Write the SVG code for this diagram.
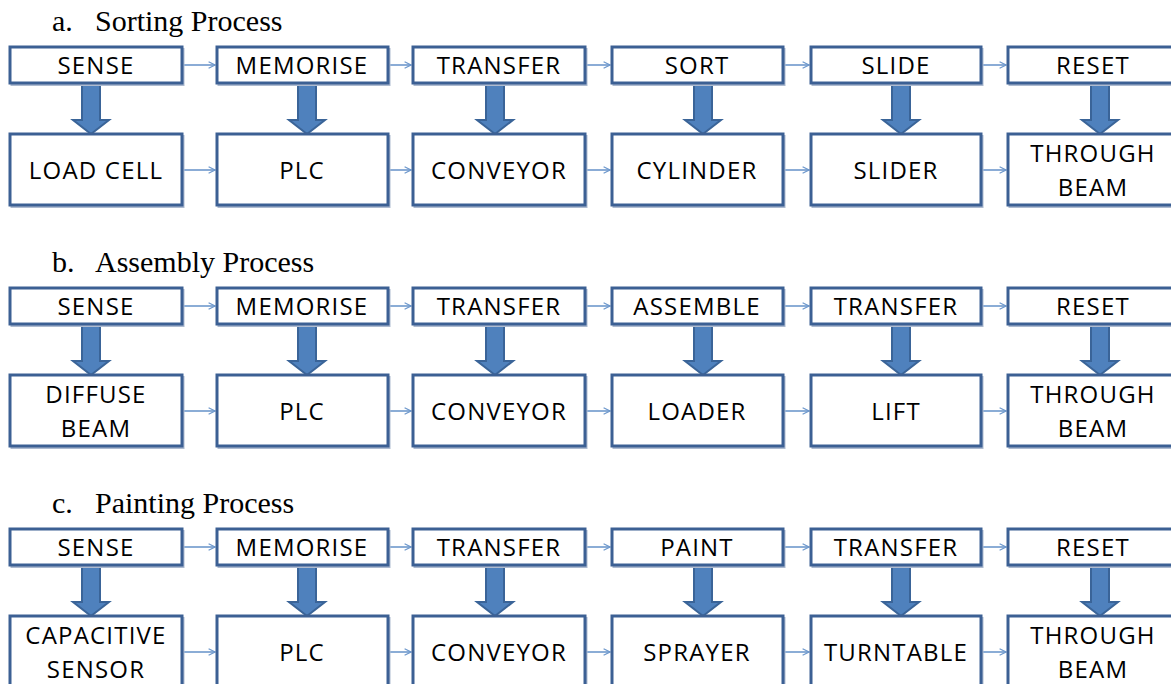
<svg xmlns="http://www.w3.org/2000/svg" width="1171" height="684" viewBox="0 0 1171 684">
<defs>
<style>
.title{font-family:"Liberation Serif","Times New Roman",serif;font-size:30px;fill:#000}
.box{fill:#fff;stroke:#3c6094;stroke-width:3}
.shadow{fill:none;stroke:#aebbd0;stroke-width:2}
.lbl{font-family:"Open Sans","Liberation Sans",sans-serif;font-size:24px;fill:#000;text-anchor:middle;letter-spacing:1.2px}
.conn{stroke:#6e98cc;stroke-width:1.6;fill:none;marker-end:url(#chev)}
.big{fill:#4f81bd;stroke:#3a6498;stroke-width:2;stroke-linejoin:miter}
</style>
<marker id="chev" viewBox="0 0 10 10" refX="9" refY="5" markerWidth="8" markerHeight="8" markerUnits="userSpaceOnUse" orient="auto">
<path d="M1,1 L9,5 L1,9" fill="none" stroke="#6e98cc" stroke-width="1.6"/>
</marker>
</defs>
<rect width="1171" height="684" fill="#fff"/>

<text class="title" x="52" y="31">a.</text><text class="title" x="95" y="31">Sorting Process</text>
<text class="title" x="52" y="272">b.</text><text class="title" x="95" y="272">Assembly Process</text>
<text class="title" x="52" y="513">c.</text><text class="title" x="95" y="513">Painting Process</text>

<g id="connectors">
<line class="conn" x1="183" y1="65" x2="215" y2="65"/>
<line class="conn" x1="389" y1="65" x2="411" y2="65"/>
<line class="conn" x1="586" y1="65" x2="610" y2="65"/>
<line class="conn" x1="784" y1="65" x2="809" y2="65"/>
<line class="conn" x1="982" y1="65" x2="1006" y2="65"/>
<line class="conn" x1="183" y1="170" x2="215" y2="170"/>
<line class="conn" x1="389" y1="170" x2="411" y2="170"/>
<line class="conn" x1="586" y1="170" x2="610" y2="170"/>
<line class="conn" x1="784" y1="170" x2="809" y2="170"/>
<line class="conn" x1="982" y1="170" x2="1006" y2="170"/>
<line class="conn" x1="183" y1="306" x2="215" y2="306"/>
<line class="conn" x1="389" y1="306" x2="411" y2="306"/>
<line class="conn" x1="586" y1="306" x2="610" y2="306"/>
<line class="conn" x1="784" y1="306" x2="809" y2="306"/>
<line class="conn" x1="982" y1="306" x2="1006" y2="306"/>
<line class="conn" x1="183" y1="411" x2="215" y2="411"/>
<line class="conn" x1="389" y1="411" x2="411" y2="411"/>
<line class="conn" x1="586" y1="411" x2="610" y2="411"/>
<line class="conn" x1="784" y1="411" x2="809" y2="411"/>
<line class="conn" x1="982" y1="411" x2="1006" y2="411"/>
<line class="conn" x1="183" y1="547" x2="215" y2="547"/>
<line class="conn" x1="389" y1="547" x2="411" y2="547"/>
<line class="conn" x1="586" y1="547" x2="610" y2="547"/>
<line class="conn" x1="784" y1="547" x2="809" y2="547"/>
<line class="conn" x1="982" y1="547" x2="1006" y2="547"/>
<line class="conn" x1="183" y1="652" x2="215" y2="652"/>
<line class="conn" x1="389" y1="652" x2="411" y2="652"/>
<line class="conn" x1="586" y1="652" x2="610" y2="652"/>
<line class="conn" x1="784" y1="652" x2="809" y2="652"/>
<line class="conn" x1="982" y1="652" x2="1006" y2="652"/>
<path class="big" d="M82,84 H100 V120 H109 L91,134 L73,120 H82 Z"/>
<path class="big" d="M298,84 H316 V120 H325 L307,134 L289,120 H298 Z"/>
<path class="big" d="M486,84 H504 V120 H513 L495,134 L477,120 H486 Z"/>
<path class="big" d="M694,84 H712 V120 H721 L703,134 L685,120 H694 Z"/>
<path class="big" d="M892,84 H910 V120 H919 L901,134 L883,120 H892 Z"/>
<path class="big" d="M1091,84 H1109 V120 H1118 L1100,134 L1082,120 H1091 Z"/>
<path class="big" d="M82,325 H100 V361 H109 L91,375 L73,361 H82 Z"/>
<path class="big" d="M298,325 H316 V361 H325 L307,375 L289,361 H298 Z"/>
<path class="big" d="M486,325 H504 V361 H513 L495,375 L477,361 H486 Z"/>
<path class="big" d="M694,325 H712 V361 H721 L703,375 L685,361 H694 Z"/>
<path class="big" d="M892,325 H910 V361 H919 L901,375 L883,361 H892 Z"/>
<path class="big" d="M1091,325 H1109 V361 H1118 L1100,375 L1082,361 H1091 Z"/>
<path class="big" d="M82,566 H100 V602 H109 L91,616 L73,602 H82 Z"/>
<path class="big" d="M298,566 H316 V602 H325 L307,616 L289,602 H298 Z"/>
<path class="big" d="M486,566 H504 V602 H513 L495,616 L477,602 H486 Z"/>
<path class="big" d="M694,566 H712 V602 H721 L703,616 L685,602 H694 Z"/>
<path class="big" d="M892,566 H910 V602 H919 L901,616 L883,602 H892 Z"/>
<path class="big" d="M1091,566 H1109 V602 H1118 L1100,616 L1082,602 H1091 Z"/>
</g>

<g id="a-sense"><rect class="shadow" x="11.5" y="49" width="172" height="36"/><rect class="box" x="10" y="47" width="172" height="36"/><text class="lbl" x="96" y="74">SENSE</text></g>
<g id="a-memorise"><rect class="shadow" x="218.5" y="49" width="171" height="36"/><rect class="box" x="217" y="47" width="171" height="36"/><text class="lbl" x="302" y="74">MEMORISE</text></g>
<g id="a-transfer"><rect class="shadow" x="414.5" y="49" width="172" height="36"/><rect class="box" x="413" y="47" width="172" height="36"/><text class="lbl" x="499" y="74">TRANSFER</text></g>
<g id="a-sort"><rect class="shadow" x="613.5" y="49" width="171" height="36"/><rect class="box" x="612" y="47" width="171" height="36"/><text class="lbl" x="697" y="74">SORT</text></g>
<g id="a-slide"><rect class="shadow" x="812.5" y="49" width="170" height="36"/><rect class="box" x="811" y="47" width="170" height="36"/><text class="lbl" x="896" y="74">SLIDE</text></g>
<g id="a-reset"><rect class="shadow" x="1009.5" y="49" width="172" height="36"/><rect class="box" x="1008" y="47" width="172" height="36"/><text class="lbl" x="1093" y="74">RESET</text></g>

<g id="a-loadcell"><rect class="shadow" x="11.5" y="136" width="172" height="71"/><rect class="box" x="10" y="134" width="172" height="71"/><text class="lbl" x="96" y="179">LOAD CELL</text></g>
<g id="a-plc"><rect class="shadow" x="218.5" y="136" width="171" height="71"/><rect class="box" x="217" y="134" width="171" height="71"/><text class="lbl" x="302" y="179">PLC</text></g>
<g id="a-conveyor"><rect class="shadow" x="414.5" y="136" width="172" height="71"/><rect class="box" x="413" y="134" width="172" height="71"/><text class="lbl" x="499" y="179">CONVEYOR</text></g>
<g id="a-cylinder"><rect class="shadow" x="613.5" y="136" width="171" height="71"/><rect class="box" x="612" y="134" width="171" height="71"/><text class="lbl" x="697" y="179">CYLINDER</text></g>
<g id="a-slider"><rect class="shadow" x="812.5" y="136" width="170" height="71"/><rect class="box" x="811" y="134" width="170" height="71"/><text class="lbl" x="896" y="179">SLIDER</text></g>
<g id="a-throughbeam"><rect class="shadow" x="1009.5" y="136" width="172" height="71"/><rect class="box" x="1008" y="134" width="172" height="71"/><text class="lbl" x="1093" y="162">THROUGH</text><text class="lbl" x="1093" y="196">BEAM</text></g>

<g id="b-sense"><rect class="shadow" x="11.5" y="290" width="172" height="36"/><rect class="box" x="10" y="288" width="172" height="36"/><text class="lbl" x="96" y="315">SENSE</text></g>
<g id="b-memorise"><rect class="shadow" x="218.5" y="290" width="171" height="36"/><rect class="box" x="217" y="288" width="171" height="36"/><text class="lbl" x="302" y="315">MEMORISE</text></g>
<g id="b-transfer"><rect class="shadow" x="414.5" y="290" width="172" height="36"/><rect class="box" x="413" y="288" width="172" height="36"/><text class="lbl" x="499" y="315">TRANSFER</text></g>
<g id="b-assemble"><rect class="shadow" x="613.5" y="290" width="171" height="36"/><rect class="box" x="612" y="288" width="171" height="36"/><text class="lbl" x="697" y="315">ASSEMBLE</text></g>
<g id="b-transfer2"><rect class="shadow" x="812.5" y="290" width="170" height="36"/><rect class="box" x="811" y="288" width="170" height="36"/><text class="lbl" x="896" y="315">TRANSFER</text></g>
<g id="b-reset"><rect class="shadow" x="1009.5" y="290" width="172" height="36"/><rect class="box" x="1008" y="288" width="172" height="36"/><text class="lbl" x="1093" y="315">RESET</text></g>

<g id="b-diffusebeam"><rect class="shadow" x="11.5" y="377" width="172" height="71"/><rect class="box" x="10" y="375" width="172" height="71"/><text class="lbl" x="96" y="403">DIFFUSE</text><text class="lbl" x="96" y="437">BEAM</text></g>
<g id="b-plc"><rect class="shadow" x="218.5" y="377" width="171" height="71"/><rect class="box" x="217" y="375" width="171" height="71"/><text class="lbl" x="302" y="420">PLC</text></g>
<g id="b-conveyor"><rect class="shadow" x="414.5" y="377" width="172" height="71"/><rect class="box" x="413" y="375" width="172" height="71"/><text class="lbl" x="499" y="420">CONVEYOR</text></g>
<g id="b-loader"><rect class="shadow" x="613.5" y="377" width="171" height="71"/><rect class="box" x="612" y="375" width="171" height="71"/><text class="lbl" x="697" y="420">LOADER</text></g>
<g id="b-lift"><rect class="shadow" x="812.5" y="377" width="170" height="71"/><rect class="box" x="811" y="375" width="170" height="71"/><text class="lbl" x="896" y="420">LIFT</text></g>
<g id="b-throughbeam"><rect class="shadow" x="1009.5" y="377" width="172" height="71"/><rect class="box" x="1008" y="375" width="172" height="71"/><text class="lbl" x="1093" y="403">THROUGH</text><text class="lbl" x="1093" y="437">BEAM</text></g>

<g id="c-sense"><rect class="shadow" x="11.5" y="531" width="172" height="36"/><rect class="box" x="10" y="529" width="172" height="36"/><text class="lbl" x="96" y="556">SENSE</text></g>
<g id="c-memorise"><rect class="shadow" x="218.5" y="531" width="171" height="36"/><rect class="box" x="217" y="529" width="171" height="36"/><text class="lbl" x="302" y="556">MEMORISE</text></g>
<g id="c-transfer"><rect class="shadow" x="414.5" y="531" width="172" height="36"/><rect class="box" x="413" y="529" width="172" height="36"/><text class="lbl" x="499" y="556">TRANSFER</text></g>
<g id="c-paint"><rect class="shadow" x="613.5" y="531" width="171" height="36"/><rect class="box" x="612" y="529" width="171" height="36"/><text class="lbl" x="697" y="556">PAINT</text></g>
<g id="c-transfer2"><rect class="shadow" x="812.5" y="531" width="170" height="36"/><rect class="box" x="811" y="529" width="170" height="36"/><text class="lbl" x="896" y="556">TRANSFER</text></g>
<g id="c-reset"><rect class="shadow" x="1009.5" y="531" width="172" height="36"/><rect class="box" x="1008" y="529" width="172" height="36"/><text class="lbl" x="1093" y="556">RESET</text></g>

<g id="c-capacitive"><rect class="shadow" x="11.5" y="618" width="172" height="71"/><rect class="box" x="10" y="616" width="172" height="71"/><text class="lbl" x="96" y="644">CAPACITIVE</text><text class="lbl" x="96" y="678">SENSOR</text></g>
<g id="c-plc"><rect class="shadow" x="218.5" y="618" width="171" height="71"/><rect class="box" x="217" y="616" width="171" height="71"/><text class="lbl" x="302" y="661">PLC</text></g>
<g id="c-conveyor"><rect class="shadow" x="414.5" y="618" width="172" height="71"/><rect class="box" x="413" y="616" width="172" height="71"/><text class="lbl" x="499" y="661">CONVEYOR</text></g>
<g id="c-sprayer"><rect class="shadow" x="613.5" y="618" width="171" height="71"/><rect class="box" x="612" y="616" width="171" height="71"/><text class="lbl" x="697" y="661">SPRAYER</text></g>
<g id="c-turntable"><rect class="shadow" x="812.5" y="618" width="170" height="71"/><rect class="box" x="811" y="616" width="170" height="71"/><text class="lbl" x="896" y="661">TURNTABLE</text></g>
<g id="c-throughbeam"><rect class="shadow" x="1009.5" y="618" width="172" height="71"/><rect class="box" x="1008" y="616" width="172" height="71"/><text class="lbl" x="1093" y="644">THROUGH</text><text class="lbl" x="1093" y="678">BEAM</text></g>
</svg>
